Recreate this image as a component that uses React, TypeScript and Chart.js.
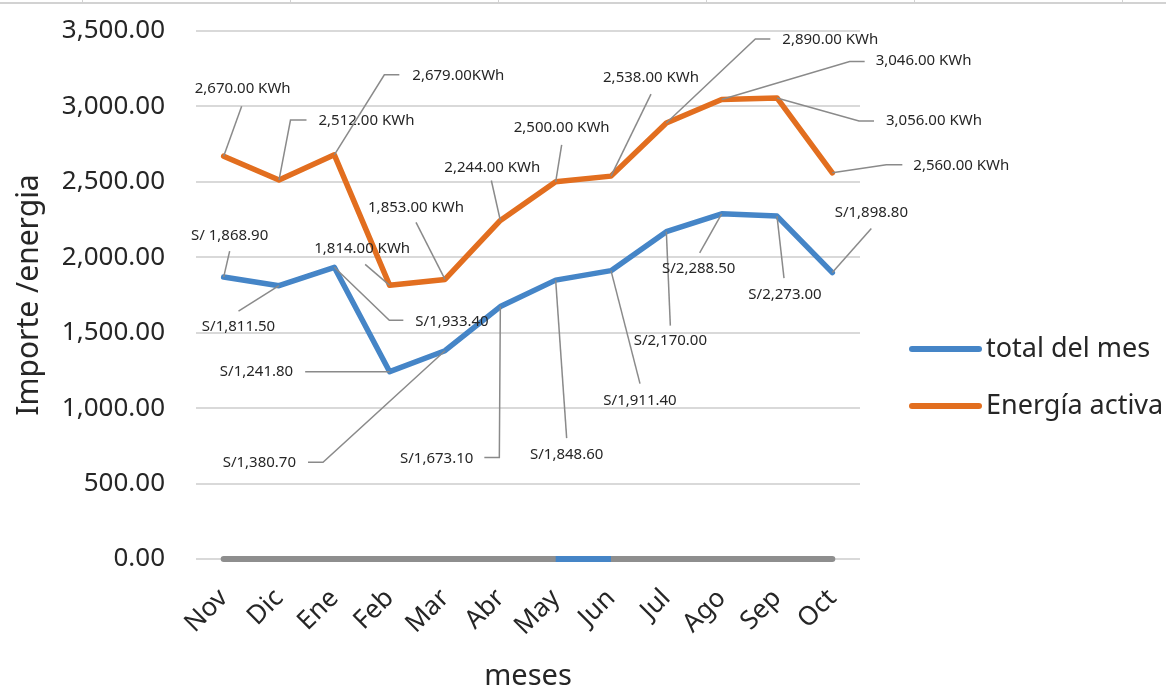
import React, { useEffect, useRef } from "react";
import { Chart, registerables } from "chart.js";

Chart.register(...registerables);

// ---------- data ----------
const months = ["Nov", "Dic", "Ene", "Feb", "Mar", "Abr", "May", "Jun", "Jul", "Ago", "Sep", "Oct"];
const totalDelMes = [1868.9, 1811.5, 1933.4, 1241.8, 1380.7, 1673.1, 1848.6, 1911.4, 2170.0, 2288.5, 2273.0, 1898.8];
const energiaActiva = [2670, 2512, 2679, 1814, 1853, 2244, 2500, 2538, 2890, 3046, 3056, 2560];
const zeroSeriesGray = [0, 0, 0, 0, 0, 0, 0, 0, 0, 0, 0, 0];
const zeroSeriesBlue = [null, null, null, null, null, null, 0, 0, null, null, null, null];

const totalLabels = [
  "S/ 1,868.90", "S/1,811.50", "S/1,933.40", "S/1,241.80", "S/1,380.70", "S/1,673.10",
  "S/1,848.60", "S/1,911.40", "S/2,170.00", "S/2,288.50", "S/2,273.00", "S/1,898.80",
];
const energyLabels = [
  "2,670.00 KWh", "2,512.00 KWh", "2,679.00KWh", "1,814.00 KWh", "1,853.00 KWh", "2,244.00 KWh",
  "2,500.00 KWh", "2,538.00 KWh", "2,890.00 KWh", "3,046.00 KWh", "3,056.00 KWh", "2,560.00 KWh",
];
const seriesNames = ["total del mes", "Energía activa"];
const yTickMin = 0;
const yTickMax = 3500;
const yTickStep = 500;

// ---------- label placement (pixel offsets from each point) ----------
type LabelPos = { a: "c" | "l" | "r"; dx: number; dy: number; path: number[][] };
const totalLabelLayout: LabelPos[] = [
  { a: "c", dx: 6, dy: -41, path: [[6, -26]] },
  { a: "c", dx: -40.5, dy: 41.5, path: [[-40.5, 25.5]] },
  { a: "l", dx: 81, dy: 54, path: [[55, 53], [69, 53]] },
  { a: "r", dx: -96.5, dy: 0, path: [[-84.5, 0]] },
  { a: "r", dx: -149, dy: 112.5, path: [[-122, 111.5], [-137, 111.5]] },
  { a: "r", dx: -27, dy: 152, path: [[-1, 151], [-16, 151]] },
  { a: "c", dx: 11, dy: 175, path: [[11, 158]] },
  { a: "c", dx: 29, dy: 130, path: [[29, 113]] },
  { a: "c", dx: 4, dy: 109, path: [[4, 94]] },
  { a: "c", dx: -23, dy: 55, path: [[-22, 39]] },
  { a: "c", dx: 8, dy: 79, path: [[7, 62]] },
  { a: "c", dx: 39, dy: -60, path: [[39, -44]] },
];
const energyLabelLayout: LabelPos[] = [
  { a: "c", dx: 19, dy: -67, path: [[18, -50]] },
  { a: "l", dx: 39.5, dy: -59, path: [[11.5, -60], [27.5, -60]] },
  { a: "l", dx: 78, dy: -79, path: [[50, -80], [65, -80]] },
  { a: "c", dx: -27.5, dy: -37, path: [[-24.5, -21]] },
  { a: "c", dx: -29, dy: -72, path: [[-29, -57]] },
  { a: "c", dx: -8, dy: -53, path: [[-9, -40]] },
  { a: "c", dx: 6, dy: -54, path: [[6, -37]] },
  { a: "c", dx: 40, dy: -98, path: [[40, -82]] },
  { a: "l", dx: 116, dy: -83, path: [[89, -84], [104, -84]] },
  { a: "l", dx: 154, dy: -39, path: [[128, -38], [143, -38]] },
  { a: "l", dx: 109, dy: 23, path: [[82, 23], [97, 23]] },
  { a: "l", dx: 81, dy: -7, path: [[54, -8], [70, -8]] },
];

const BLUE = "#4585c7";
const ORANGE = "#e26e1f";
const GRAY = "#8e8e8e";
const TEXT = "#262626";
const FONT = "'Noto Sans', 'Open Sans', sans-serif";

const framePlugin = {
  id: "frame",
  beforeDraw(chart: any) {
    const ctx = chart.ctx;
    ctx.save();
    ctx.fillStyle = "#ffffff";
    ctx.fillRect(0, 0, chart.width, chart.height);
    ctx.fillStyle = "#d2d2d2";
    ctx.fillRect(0, 2, chart.width, 2);
    [82, 290, 498, 706, 914, 1122].forEach((x) => ctx.fillRect(x, 0, 1, 3));
    ctx.restore();
  },
};

const leaderLabelPlugin = {
  id: "leaderLabels",
  afterDatasetsDraw(chart: any) {
    const ctx = chart.ctx;
    const specs = [
      { ds: 0, texts: totalLabels, layout: totalLabelLayout },
      { ds: 1, texts: energyLabels, layout: energyLabelLayout },
    ];
    ctx.save();
    for (const s of specs) {
      const meta = chart.getDatasetMeta(s.ds);
      meta.data.forEach((pt: any, i: number) => {
        const L = s.layout[i];
        if (!L) return;
        const x = pt.x;
        const y = pt.y;
        ctx.beginPath();
        ctx.moveTo(x, y);
        for (const [dx, dy] of L.path) ctx.lineTo(x + dx, y + dy);
        ctx.strokeStyle = "#8a8a8a";
        ctx.lineWidth = 1.5;
        ctx.stroke();
        ctx.font = `15px ${FONT}`;
        ctx.fillStyle = TEXT;
        ctx.textAlign = L.a === "l" ? "left" : L.a === "r" ? "right" : "center";
        ctx.textBaseline = "middle";
        ctx.fillText(s.texts[i], x + L.dx, y + L.dy);
      });
    }
    ctx.restore();
  },
};

const legendPlugin = {
  id: "customLegend",
  afterDraw(chart: any) {
    const ctx = chart.ctx;
    const items = [
      { text: chart.data.datasets[0].label, color: chart.data.datasets[0].borderColor, y: 349 },
      { text: chart.data.datasets[1].label, color: chart.data.datasets[1].borderColor, y: 406 },
    ];
    ctx.save();
    for (const it of items) {
      ctx.beginPath();
      ctx.moveTo(912, it.y);
      ctx.lineTo(979, it.y);
      ctx.strokeStyle = it.color;
      ctx.lineWidth = 6;
      ctx.lineCap = "round";
      ctx.stroke();
      ctx.font = `27px ${FONT}`;
      ctx.fillStyle = TEXT;
      ctx.textAlign = "left";
      ctx.textBaseline = "middle";
      ctx.fillText(it.text, 986, it.y);
    }
    ctx.restore();
  },
};

export default function App() {
  const canvasRef = useRef<HTMLCanvasElement | null>(null);

  useEffect(() => {
    if (!canvasRef.current) return;
    Chart.defaults.font.family = FONT;
    const chart = new Chart(canvasRef.current, {
      type: "line",
      data: {
        labels: months,
        datasets: [
          {
            label: seriesNames[0],
            data: totalDelMes,
            borderColor: BLUE,
            backgroundColor: BLUE,
            borderWidth: 5.5,
            pointRadius: 0,
            tension: 0,
            borderJoinStyle: "round",
            borderCapStyle: "round",
            order: 1,
          },
          {
            label: seriesNames[1],
            data: energiaActiva,
            borderColor: ORANGE,
            backgroundColor: ORANGE,
            borderWidth: 5.5,
            pointRadius: 0,
            tension: 0,
            borderJoinStyle: "round",
            borderCapStyle: "round",
            order: 0,
          },
          {
            label: "zeroGray",
            data: zeroSeriesGray,
            borderColor: GRAY,
            borderWidth: 6,
            pointRadius: 0,
            borderCapStyle: "round",
            clip: false,
            order: 3,
          },
          {
            label: "zeroBlue",
            data: zeroSeriesBlue as any,
            borderColor: BLUE,
            borderWidth: 6,
            pointRadius: 0,
            spanGaps: false,
            clip: false,
            order: 2,
          },
        ],
      },
      options: {
        responsive: true,
        maintainAspectRatio: false,
        animation: false,
        layout: { padding: { left: 0, top: 31, right: 306, bottom: 0 } },
        plugins: {
          legend: { display: false },
          tooltip: { enabled: false },
        },
        scales: {
          x: {
            offset: true,
            grid: { display: false, drawTicks: false },
            border: { display: false },
            ticks: {
              minRotation: 45,
              maxRotation: 45,
              padding: 24,
              color: TEXT,
              font: { size: 26, family: FONT },
            },
            title: {
              display: true,
              text: "meses",
              color: TEXT,
              font: { size: 29, family: FONT, lineHeight: 1 },
              padding: 0,
            },
            afterFit: (s: any) => {
              s.height = 132;
            },
          },
          y: {
            min: yTickMin,
            max: yTickMax,
            ticks: {
              stepSize: yTickStep,
              padding: 31,
              color: TEXT,
              font: { size: 26, family: FONT },
              callback: (v: any) =>
                Number(v).toLocaleString("en-US", { minimumFractionDigits: 2, maximumFractionDigits: 2 }),
            },
            grid: { color: "#d9d9d9", lineWidth: 2, drawTicks: false },
            border: { display: false },
            title: {
              display: true,
              text: "Importe /energia",
              color: TEXT,
              font: { size: 30, family: FONT },
              padding: { top: 11, bottom: 0 },
            },
            afterFit: (s: any) => {
              s.width = 196;
              s.paddingTop = 16;
              s.paddingBottom = 16;
            },
          },
        },
      },
      plugins: [framePlugin, leaderLabelPlugin, legendPlugin],
    });
    return () => chart.destroy();
  }, []);

  return (
    <div style={{ position: "fixed", left: 0, top: 0, width: 1166, height: 691, background: "#fff" }}>
      <canvas ref={canvasRef} />
    </div>
  );
}
